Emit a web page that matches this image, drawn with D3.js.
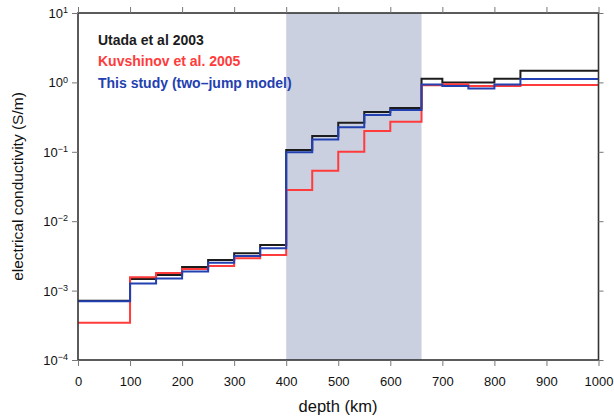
<!DOCTYPE html>
<html>
<head>
<meta charset="utf-8">
<script src="https://cdn.jsdelivr.net/npm/d3@7"></script>
<style>
  html, body { margin: 0; padding: 0; background: #fff; }
  svg { display: block; font-family: "Liberation Sans", Arial, Helvetica, sans-serif; }
</style>
</head>
<body>
<svg id="chart" width="614" height="419"></svg>
<script>
// Layer tops (km); each layer extends to the next top, the last one to 1000 km
const layerTop = [0, 100, 150, 200, 250, 300, 350, 400, 450, 500, 550, 600, 660, 700, 750, 800, 850];
const utada2003 = [7.15e-4, 1.47e-3, 1.68e-3, 2.19e-3, 2.76e-3, 3.45e-3, 4.54e-3,
  0.106, 0.169, 0.262, 0.374, 0.428, 1.13, 1.0, 1.0, 1.13, 1.47];
const kuvshinov2005 = [3.45e-4, 1.56e-3, 1.79e-3, 2.05e-3, 2.26e-3, 2.92e-3, 3.26e-3,
  0.0282, 0.0534, 0.100, 0.20, 0.272, 0.91, 0.94, 0.89, 0.89, 0.92];
const twoJump = [7.0e-4, 1.27e-3, 1.50e-3, 1.88e-3, 2.52e-3, 3.15e-3, 4.07e-3,
  0.0984, 0.151, 0.225, 0.339, 0.40, 0.93, 0.89, 0.82, 0.93, 1.12];
const maxDepth = 1000;
const transitionZone = [400, 660];
const xTicks = [0, 100, 200, 300, 400, 500, 600, 700, 800, 900, 1000];
const yExponents = [1, 0, -1, -2, -3, -4];
const seriesNames = ["Utada et al 2003", "Kuvshinov et al. 2005", "This study (two\u2013jump model)"];
const seriesColors = ["#1c1c1c", "#ff3b3b", "#2240b0"];

const svg = d3.select("#chart");
const x = d3.scaleLinear().domain([0, maxDepth]).range([78, 598.5]);
const y = d3.scaleLog().domain([1e-4, 10]).range([360, 13]);

// mantle transition zone shading
svg.append("rect")
  .attr("x", x(transitionZone[0]))
  .attr("y", y(10))
  .attr("width", x(transitionZone[1]) - x(transitionZone[0]))
  .attr("height", y(1e-4) - y(10))
  .attr("fill", "#cbd0e1");

// step profiles
const toPoints = vals => {
  const pts = layerTop.map((d, i) => [d, vals[i]]);
  pts.push([maxDepth, vals[vals.length - 1]]);
  return pts;
};
const line = d3.line()
  .x(d => x(d[0]))
  .y(d => y(d[1]))
  .curve(d3.curveStepAfter);

const drawOrder = [
  { vals: utada2003, color: seriesColors[0] },
  { vals: kuvshinov2005, color: seriesColors[1] },
  { vals: twoJump, color: seriesColors[2] }
];
drawOrder.forEach(s => {
  svg.append("path")
    .attr("d", line(toPoints(s.vals)))
    .attr("fill", "none")
    .attr("stroke", s.color)
    .attr("stroke-width", 2)
    .attr("stroke-linejoin", "miter");
});

// frame
svg.append("rect")
  .attr("x", x(0)).attr("y", y(10))
  .attr("width", x(maxDepth) - x(0))
  .attr("height", y(1e-4) - y(10))
  .attr("fill", "none")
  .attr("stroke", "#333")
  .attr("stroke-width", 1.6);

const tickColor = "#777";
// bottom axis
const gx = svg.append("g")
  .attr("transform", `translate(0,${y(1e-4)})`)
  .call(d3.axisBottom(x).tickValues(xTicks).tickSize(6).tickPadding(11).tickFormat(d3.format("d")));
gx.select(".domain").remove();
gx.selectAll("line").attr("stroke", tickColor);
gx.selectAll("text").attr("font-size", 13).attr("fill", "#111");

// top ticks
const gt = svg.append("g")
  .attr("transform", `translate(0,${y(10)})`)
  .call(d3.axisTop(x).tickValues(xTicks).tickSize(6).tickFormat(""));
gt.select(".domain").remove();
gt.selectAll("line").attr("stroke", tickColor);

// left axis with power-of-ten labels
const yTickVals = yExponents.map(e => Math.pow(10, e));
const gy = svg.append("g")
  .attr("transform", `translate(${x(0)},0)`)
  .call(d3.axisLeft(y).tickValues(yTickVals).tickSize(6).tickPadding(6).tickFormat(""));
gy.select(".domain").remove();
gy.selectAll("line").attr("stroke", tickColor);
gy.selectAll(".tick text").each(function(d) {
  const e = Math.round(Math.log10(d));
  const t = d3.select(this)
    .attr("font-size", 13)
    .attr("fill", "#111")
    .attr("x", -10)
    .attr("dy", "0.35em");
  t.append("tspan").text("10");
  t.append("tspan")
    .attr("font-size", 9)
    .attr("dy", "-0.55em")
    .text(e < 0 ? "\u2212" + Math.abs(e) : String(e));
});

// right ticks
const gr = svg.append("g")
  .attr("transform", `translate(${x(maxDepth)},0)`)
  .call(d3.axisRight(y).tickValues(yTickVals).tickSize(5).tickFormat(""));
gr.select(".domain").remove();
gr.selectAll("line").attr("stroke", tickColor);

// axis titles
svg.append("text")
  .attr("x", 338)
  .attr("y", 412)
  .attr("text-anchor", "middle")
  .attr("font-size", 16.5)
  .attr("fill", "#111")
  .text("depth (km)");
svg.append("text")
  .attr("transform", `translate(23,${(y(10) + y(1e-4)) / 2}) rotate(-90)`)
  .attr("text-anchor", "middle")
  .attr("font-size", 15.5)
  .attr("fill", "#111")
  .text("electrical conductivity (S/m)");

// legend
seriesNames.forEach((name, i) => {
  svg.append("text")
    .attr("x", 98)
    .attr("y", 44.5 + i * 21.5)
    .attr("font-size", 14)
    .attr("font-weight", "bold")
    .attr("fill", seriesColors[i])
    .text(name);
});
</script>
</body>
</html>
